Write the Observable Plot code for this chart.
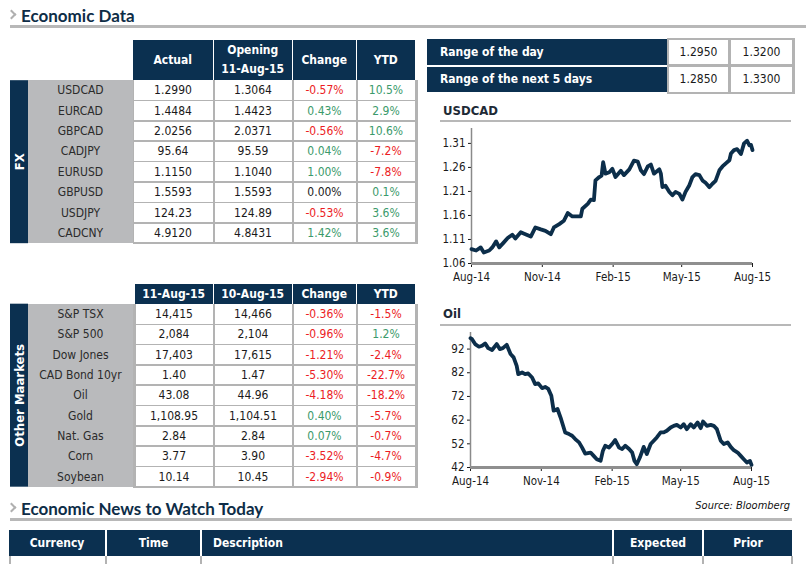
<!DOCTYPE html>
<html><head><meta charset="utf-8">
<script src="https://cdn.jsdelivr.net/npm/d3@7"></script>
<script src="https://cdn.jsdelivr.net/npm/@observablehq/plot@0.6"></script>
<style>
body{margin:0;background:#fff;}
#root{position:relative;width:806px;height:564px;overflow:hidden;font-family:'Liberation Sans Narrow','DejaVu Sans Condensed','DejaVu Sans',sans-serif;font-size:12px;color:#222;}
.abs{position:absolute;box-sizing:border-box;}
.c{display:flex;align-items:center;justify-content:center;white-space:nowrap;}
.h1{font-family:Lato,'DejaVu Sans',sans-serif;font-weight:bold;font-size:17px;color:#0e2d47;}
</style></head>
<body><div id="root"></div>
<script>
// ---------- DATA ----------
const fxPairs   = ["USDCAD","EURCAD","GBPCAD","CADJPY","EURUSD","GBPUSD","USDJPY","CADCNY"];
const fxActual  = ["1.2990","1.4484","2.0256","95.64","1.1150","1.5593","124.23","4.9120"];
const fxOpening = ["1.3064","1.4423","2.0371","95.59","1.1040","1.5593","124.89","4.8431"];
const fxChange  = [-0.57, 0.43, -0.56, 0.04, 1.00, 0.00, -0.53, 1.42];
const fxYtd     = [10.5, 2.9, 10.6, -7.2, -7.8, 0.1, 3.6, 3.6];
const fxHeaders = ["Actual", "Opening\n11-Aug-15", "Change", "YTD"];

const mkNames   = ["S&P TSX","S&P 500","Dow Jones","CAD Bond 10yr","Oil","Gold","Nat. Gas","Corn","Soybean"];
const mkToday   = ["14,415","2,084","17,403","1.40","43.08","1,108.95","2.84","3.77","10.14"];
const mkPrev    = ["14,466","2,104","17,615","1.47","44.96","1,104.51","2.84","3.90","10.45"];
const mkChange  = [-0.36, -0.96, -1.21, -5.30, -4.18, 0.40, 0.07, -3.52, -2.94];
const mkYtd     = [-1.5, 1.2, -2.4, -22.7, -18.2, -5.7, -0.7, -4.7, -0.9];
const mkHeaders = ["11-Aug-15", "10-Aug-15", "Change", "YTD"];

const rangeLabels = ["Range of the day", "Range of the next 5 days"];
const rangeLow    = ["1.2950", "1.2850"];
const rangeHigh   = ["1.3200", "1.3300"];

const newsHeaders = ["Currency", "Time", "Description", "Expected", "Prior"];

const xDomain     = ["2014-08-11", "2015-08-11"];
const xTickDates  = ["2014-08-11", "2014-11-11", "2015-02-11", "2015-05-11", "2015-08-11"];
const xTickLabels = ["Aug-14", "Nov-14", "Feb-15", "May-15", "Aug-15"];

const usdcadYDomain = [1.06, 1.341];
const usdcadYTicks  = [1.06, 1.11, 1.16, 1.21, 1.26, 1.31];
const usdcadDates = ["2014-08-11","2014-08-17","2014-08-23","2014-08-27","2014-09-03","2014-09-07","2014-09-12","2014-09-16","2014-09-22","2014-09-27","2014-10-03","2014-10-07","2014-10-14","2014-10-20","2014-10-27","2014-11-02","2014-11-09","2014-11-15","2014-11-22","2014-11-26","2014-12-03","2014-12-09","2014-12-14","2014-12-20","2014-12-31","2015-01-02","2015-01-09","2015-01-13","2015-01-17","2015-01-19","2015-01-24","2015-01-27","2015-01-29","2015-02-01","2015-02-06","2015-02-10","2015-02-14","2015-02-21","2015-02-25","2015-03-04","2015-03-10","2015-03-15","2015-03-19","2015-03-23","2015-03-28","2015-04-01","2015-04-05","2015-04-12","2015-04-14","2015-04-16","2015-04-20","2015-04-25","2015-04-29","2015-05-03","2015-05-08","2015-05-12","2015-05-16","2015-05-21","2015-05-25","2015-05-29","2015-06-03","2015-06-07","2015-06-11","2015-06-16","2015-06-20","2015-06-24","2015-06-29","2015-07-03","2015-07-07","2015-07-12","2015-07-14","2015-07-18","2015-07-22","2015-07-27","2015-07-31","2015-08-04","2015-08-07","2015-08-09","2015-08-11"];
const usdcadValues = [1.090,1.087,1.0935,1.083,1.087,1.0935,1.106,1.0935,1.104,1.113,1.120,1.112,1.125,1.121,1.116,1.135,1.131,1.128,1.121,1.135,1.142,1.149,1.165,1.158,1.158,1.174,1.184,1.193,1.192,1.233,1.240,1.243,1.271,1.247,1.250,1.257,1.240,1.253,1.244,1.256,1.274,1.272,1.254,1.246,1.262,1.266,1.247,1.256,1.247,1.219,1.222,1.209,1.202,1.209,1.205,1.193,1.209,1.223,1.240,1.246,1.244,1.233,1.228,1.219,1.226,1.232,1.254,1.262,1.268,1.275,1.289,1.296,1.298,1.288,1.310,1.3155,1.306,1.307,1.296];

const oilYDomain = [42, 99];
const oilYTicks  = [42, 52, 62, 72, 82, 92];
const oilDates = ["2014-08-11","2014-08-13","2014-08-17","2014-08-22","2014-08-26","2014-08-30","2014-09-03","2014-09-08","2014-09-14","2014-09-18","2014-09-22","2014-09-27","2014-10-02","2014-10-06","2014-10-10","2014-10-12","2014-10-17","2014-10-21","2014-10-25","2014-10-30","2014-11-03","2014-11-07","2014-11-12","2014-11-16","2014-11-20","2014-11-24","2014-11-27","2014-12-02","2014-12-06","2014-12-10","2014-12-12","2014-12-17","2014-12-21","2014-12-25","2014-12-30","2015-01-03","2015-01-07","2015-01-14","2015-01-18","2015-01-22","2015-01-27","2015-01-30","2015-02-02","2015-02-07","2015-02-11","2015-02-15","2015-02-20","2015-02-24","2015-02-28","2015-03-05","2015-03-09","2015-03-12","2015-03-15","2015-03-19","2015-03-24","2015-03-28","2015-04-02","2015-04-06","2015-04-10","2015-04-15","2015-04-19","2015-04-23","2015-04-28","2015-05-02","2015-05-06","2015-05-11","2015-05-15","2015-05-19","2015-05-24","2015-05-28","2015-06-02","2015-06-06","2015-06-09","2015-06-14","2015-06-19","2015-06-23","2015-06-27","2015-07-02","2015-07-06","2015-07-11","2015-07-15","2015-07-19","2015-07-24","2015-07-28","2015-08-01","2015-08-05","2015-08-09","2015-08-11"];
const oilValues = [96.6,96.2,94.1,93.0,93.4,94.4,92.4,91.6,94.1,92.0,92.4,93.8,89.9,88.5,84.9,81.4,82.1,81.4,81.7,80.0,77.2,77.5,75.5,76.0,75.2,72.3,66.0,66.7,63.1,58.9,56.8,56.1,55.4,54.0,52.6,50.4,47.9,48.3,46.9,45.5,44.8,49.1,51.2,50.4,51.9,53.6,50.4,49.8,51.2,49.8,48.3,44.8,43.4,46.2,50.7,47.7,51.9,53.3,54.7,56.8,56.8,57.5,58.9,59.6,60.0,58.9,60.3,58.2,60.3,58.9,61.0,58.6,61.4,59.6,60.0,59.6,58.2,53.3,51.9,52.6,50.7,49.3,48.3,46.9,45.5,44.1,44.8,43.1];

// ---------- LAYOUT ----------
const NAVY = "#0b3050", GRID = "#b3b3b3", NAMEBG = "#b9babc", RED = "#ec1c24", GREEN = "#3b9a6b";
const root = document.getElementById("root");
function box(x, y, w, h, style = {}, text = null, parent = root) {
  const d = document.createElement("div");
  d.className = "abs c";
  Object.assign(d.style, {left: x + "px", top: y + "px", width: w + "px", height: h + "px"}, style);
  if (text != null) d.textContent = text;
  parent.appendChild(d);
  return d;
}
function chevron(x, y) {
  box(x, y, 7, 7, {borderTop: "2px solid #b0b0b0", borderRight: "2px solid #b0b0b0", transform: "rotate(45deg)"});
}
function heading(y, text) {
  chevron(8, y - 4);
  const d = box(21, y - 11, 400, 22, {justifyContent: "flex-start"}, text);
  d.classList.add("h1");
}
const colorOf = v => v < 0 ? RED : v > 0 ? GREEN : "#222";

// Section 1 heading
heading(15, "Economic Data");
box(10, 25, 796, 2.5, {background: "#b8b8b8"});

function dataTable({y0, hy, hh, cols, headers, rowH, names, c1, c2, chg, ytd, side}) {
  headers.forEach((h, j) => {
    box(cols[j], hy, cols[j + 1] - cols[j] - 1.5, hh,
        {background: NAVY, color: "#fff", fontWeight: "bold", whiteSpace: "pre-line", textAlign: "center", lineHeight: "19px"}, h);
  });
  const n = names.length, H = n * rowH;
  box(10, y0, 18, H, {background: NAVY, color: "#fff", fontWeight: "bold", writingMode: "vertical-rl", transform: "rotate(180deg)", fontSize: "13px"}, side);
  box(28, y0, 105, H, {background: NAMEBG});
  box(132.5, y0, cols[4] - 131, H + 1, {background: GRID});
  names.forEach((nm, i) => {
    const yt = y0 + i * rowH;
    box(28, yt, 105, rowH, {color: "#2b2b2b"}, nm);
    const vals = [c1[i], c2[i], chg[i].toFixed(2) + "%", ytd[i].toFixed(1) + "%"];
    const cols_ = ["#1a1a1a", "#1a1a1a", colorOf(chg[i]), colorOf(ytd[i])];
    vals.forEach((v, j) => {
      box(cols[j] + 0.5, yt + (i === 0 ? 0 : 0.75), cols[j + 1] - cols[j] - 2, rowH - (i === 0 ? 0.75 : 1.5),
          {background: "#fff", color: cols_[j]}, v);
    });
  });
}

dataTable({y0: 80, hy: 40, hh: 40, cols: [133, 214, 293, 357, 416], headers: fxHeaders, rowH: 20.4,
  names: fxPairs, c1: fxActual, c2: fxOpening, chg: fxChange, ytd: fxYtd, side: "FX"});
dataTable({y0: 304, hy: 284, hh: 20, cols: [135, 214, 293, 357, 416], headers: mkHeaders, rowH: 20.3,
  names: mkNames, c1: mkToday, c2: mkPrev, chg: mkChange, ytd: mkYtd, side: "Other Maarkets"});

// Range table
box(667, 38, 128, 56, {background: GRID});
rangeLabels.forEach((lb, i) => {
  const yt = i === 0 ? 39 : 66.5;
  box(427, yt, 240, 25.5, {background: NAVY, color: "#fff", fontWeight: "bold", justifyContent: "flex-start", paddingLeft: "13px"}, lb);
  box(669, yt + 0.5, 59, 24.5, {background: "#fff", color: "#1a1a1a"}, rangeLow[i]);
  box(731, yt + 0.5, 61, 24.5, {background: "#fff", color: "#1a1a1a"}, rangeHigh[i]);
});

// Chart titles
function chartTitle(y, text) {
  box(443, y - 8, 200, 16, {justifyContent: "flex-start", fontWeight: "bold", fontSize: "13px", color: "#1e2a36"}, text);
}
chartTitle(110, "USDCAD");
box(440, 120, 351, 2, {background: "#b8b8b8"});
chartTitle(313, "Oil");
box(440, 323.5, 351, 2, {background: "#b8b8b8"});

const tickLabelMap = new Map(xTickDates.map((d, i) => [+new Date(d), xTickLabels[i]]));
function lineChart({dates, values, yDomain, yTicks, yFormat, left, top, marginLeft}) {
  const data = dates.map((d, i) => ({date: new Date(d), value: values[i]}));
  const W = 340, H = 165;
  const svg = Plot.plot({
    width: W, height: H,
    marginLeft, marginRight: W - marginLeft - 281, marginTop: 6, marginBottom: 24,
    style: {fontFamily: "'Liberation Sans Narrow','DejaVu Sans Condensed',sans-serif", fontSize: "11.5px", color: "#1a1a1a", background: "transparent", overflow: "visible"},
    x: {type: "utc", domain: xDomain.map(d => new Date(d)), ticks: xTickDates.map(d => new Date(d)),
        tickFormat: d => tickLabelMap.get(+d), tickSize: 4, tickPadding: 5, label: null},
    y: {domain: yDomain, ticks: yTicks, tickFormat: yFormat, tickSize: 3, tickPadding: 3, label: null},
    marks: [
      Plot.ruleX([new Date(xDomain[0])], {stroke: "#8a8a8a", strokeWidth: 1.5}),
      Plot.ruleY([yDomain[0]], {stroke: "#8f8f8f", strokeWidth: 3}),
      Plot.lineY(data, {x: "date", y: "value", stroke: "#0c2e4a", strokeWidth: 3.8, strokeLinejoin: "round"})
    ]
  });
  const holder = box(left, top, W, H, {display: "block"});
  holder.appendChild(svg);
}
lineChart({dates: usdcadDates, values: usdcadValues, yDomain: usdcadYDomain, yTicks: usdcadYTicks,
  yFormat: d3.format(".2f"), left: 425, top: 122, marginLeft: 46});
lineChart({dates: oilDates, values: oilValues, yDomain: oilYDomain, yTicks: oilYTicks,
  yFormat: d3.format("d"), left: 425, top: 326, marginLeft: 45});

// Section 2 heading
heading(508, "Economic News to Watch Today");
box(10, 518, 782, 2.5, {background: "#b8b8b8"});
box(600, 498, 190, 14, {justifyContent: "flex-end", fontStyle: "italic", fontSize: "11px", color: "#111"}, "Source: Bloomberg");

const newsEdges = [9, 106, 201, 613, 703, 793];
newsHeaders.forEach((h, j) => {
  const x0 = newsEdges[j] + (j === 0 ? 0 : 1), x1 = newsEdges[j + 1] - 1;
  box(x0, 530, x1 - x0, 26, {background: NAVY, color: "#fff", fontWeight: "bold",
    justifyContent: h === "Description" ? "flex-start" : "center", paddingLeft: h === "Description" ? "11px" : "0"}, h);
  box(newsEdges[j] + (j === 0 ? 0 : -1), 556, 2, 10, {background: GRID});
});
box(791, 556, 2, 10, {background: GRID});
</script>
</body></html>
